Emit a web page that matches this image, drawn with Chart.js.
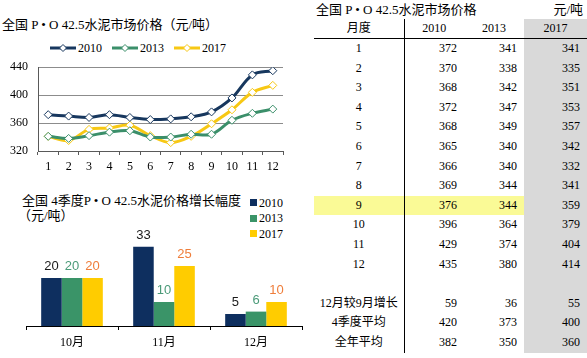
<!DOCTYPE html>
<html>
<head>
<meta charset="utf-8">
<script src="https://cdn.jsdelivr.net/npm/chart.js@4"></script>
<style>
  body { margin: 0; width: 587px; height: 358px; background: #fff; position: relative; overflow: hidden;
         font-family: "Liberation Serif", "Noto Sans CJK SC", serif; color: #000; }
  .abs { position: absolute; white-space: nowrap; }
  .title { font-size: 13px; line-height: 16px; }
  .leg { font-size: 12px; line-height: 14px; display: flex; align-items: center; }
  .leg svg { margin-right: 2px; }
  .sq { width: 7px; height: 7px; display: inline-block; margin-right: 2px; }
  #priceTable { position: absolute; left: 314px; top: 19px; border-collapse: collapse; table-layout: fixed;
                font-size: 12px; white-space: nowrap; }
  #priceTable td, #priceTable th { padding: 0 7px; height: 19.6px; line-height: 19.6px; font-weight: normal; }
  #priceTable th { height: 19px; line-height: 19px; border-bottom: 1px solid #000; text-align: center; }
  #priceTable .m { text-align: center; border-right: 1px solid #000; padding: 0; }
  #priceTable td.n { text-align: right; }
  #priceTable .g { background: #d9d9d9; }
  #priceTable tr.hl td:not(.g) { background: #fafa96; }
</style>
</head>
<body>
<!-- 左上：折线图 -->
<div class="abs title" style="left:2px;top:17px;">全国 P • O 42.5水泥市场价格（元/吨）</div>
<div id="lineLegend" class="abs leg" style="left:50px;top:41px;"></div>
<canvas id="lineChart" width="300" height="130" style="position:absolute;left:0;top:50px;"></canvas>

<!-- 左下：柱状图 -->
<div class="abs title" style="left:22px;top:193px;">全国 4季度P • O 42.5水泥价格增长幅度</div>
<div class="abs title" style="left:18px;top:208px;">（元/吨）</div>
<div id="barLegend" class="abs" style="left:250px;top:195px;"></div>
<canvas id="barChart" width="304" height="178" style="position:absolute;left:0;top:180px;"></canvas>

<!-- 右侧：表格 -->
<div class="abs title" style="left:316px;top:2px;">全国 P • O 42.5水泥市场价格</div>
<div class="abs title" style="right:4px;top:2px;">元/吨</div>
<table id="priceTable"></table>

<script>
// 月度价格
const months = ["1", "2", "3", "4", "5", "6", "7", "8", "9", "10", "11", "12"];
const price2010 = [372, 370, 368, 372, 368, 365, 366, 369, 376, 396, 429, 435];
const price2013 = [341, 338, 342, 347, 349, 340, 340, 344, 344, 364, 374, 380];
const price2017 = [341, 335, 351, 353, 357, 342, 332, 341, 359, 379, 404, 414];
const years = ["2010", "2013", "2017"];

// 4季度增长幅度
const quarterMonths = ["10月", "11月", "12月"];
const growth2010 = [20, 33, 5];
const growth2013 = [20, 10, 6];
const growth2017 = [20, 25, 10];

// 表格汇总行
const summaryLabels = ["12月较9月增长", "4季度平均", "全年平均"];
const summary2010 = [59, 420, 382];
const summary2013 = [36, 373, 350];
const summary2017 = [55, 400, 360];
const highlightMonth = "9";

const lineColors = ["#17375e", "#3b8f6a", "#f7c814"];
const barColors = ["#0e2f5f", "#3a9468", "#ffcc00"];
const labelColors = ["#1a1a1a", "#4a9a78", "#ef7d3a"];

// 图例
const lineLegend = document.getElementById("lineLegend");
years.forEach((y, i) => {
  const c = lineColors[i];
  const item = document.createElement("span");
  item.className = "leg";
  item.style.marginRight = i < 2 ? "10px" : "0";
  item.innerHTML = `<svg width="26" height="10"><line x1="0" y1="5" x2="26" y2="5" stroke="${c}" stroke-width="3"/>` +
    `<path d="M13 1.5 L16.5 5 L13 8.5 L9.5 5 Z" fill="#fff" stroke="${c}" stroke-width="1"/></svg>${y}`;
  lineLegend.appendChild(item);
});
const barLegend = document.getElementById("barLegend");
years.forEach((y, i) => {
  const item = document.createElement("div");
  item.className = "leg";
  item.style.height = "15.5px";
  item.innerHTML = `<span class="sq" style="background:${barColors[i]}"></span>${y}`;
  barLegend.appendChild(item);
});

const serif = '"Liberation Serif", "Noto Sans CJK SC", serif';

new Chart(document.getElementById("lineChart"), {
  type: "line",
  data: {
    labels: months,
    datasets: [price2010, price2013, price2017].map((d, i) => ({
      label: years[i],
      data: d,
      borderColor: lineColors[i],
      borderWidth: 3,
      tension: 0.35,
      pointStyle: "rectRot",
      pointRadius: 4,
      pointBackgroundColor: "#fff",
      pointBorderColor: lineColors[i],
      pointBorderWidth: 1,
    })),
  },
  options: {
    responsive: false,
    animation: false,
    devicePixelRatio: 1,
    layout: { padding: { top: 12, right: 17, left: 0, bottom: 0 } },
    plugins: { legend: { display: false }, tooltip: { enabled: false } },
    scales: {
      x: {
        offset: true,
        afterFit: (s) => { s.height = 29; },
        grid: { drawOnChartArea: false, offset: true, tickLength: 4, color: "#595959" },
        border: { color: "#595959" },
        ticks: { color: "#000", padding: 5, font: { family: serif, size: 12 } },
      },
      y: {
        min: 320,
        max: 440,
        afterFit: (s) => { s.width = 38; },
        grid: { drawTicks: false, color: "#8c8c8c" },
        border: { color: "#595959" },
        ticks: { stepSize: 40, color: "#000", padding: 10, font: { family: serif, size: 12 } },
      },
    },
  },
});

const barLabels = {
  id: "barLabels",
  afterDatasetsDraw(chart) {
    const ctx = chart.ctx;
    ctx.save();
    ctx.font = '13px "Liberation Sans", sans-serif';
    ctx.textAlign = "center";
    ctx.textBaseline = "bottom";
    chart.data.datasets.forEach((ds, i) => {
      ctx.fillStyle = labelColors[i];
      chart.getDatasetMeta(i).data.forEach((bar, j) => {
        ctx.fillText(ds.data[j], bar.x, bar.y - 5);
      });
    });
    ctx.restore();
  },
};

new Chart(document.getElementById("barChart"), {
  type: "bar",
  data: {
    labels: quarterMonths,
    datasets: [growth2010, growth2013, growth2017].map((d, i) => ({
      label: years[i],
      data: d,
      backgroundColor: barColors[i],
      categoryPercentage: 0.67,
      barPercentage: 1,
    })),
  },
  options: {
    responsive: false,
    animation: false,
    devicePixelRatio: 1,
    layout: { padding: { top: 50, right: 2, left: 26, bottom: 0 } },
    plugins: { legend: { display: false }, tooltip: { enabled: false } },
    scales: {
      x: {
        afterFit: (s) => { s.height = 32; },
        grid: { drawOnChartArea: false, offset: true, tickLength: 4, color: "#000" },
        border: { color: "#000" },
        ticks: { color: "#000", padding: 6, font: { family: serif, size: 12 } },
      },
      y: { display: false, min: 0, max: 40 },
    },
  },
  plugins: [barLabels],
});

// 表格
const table = document.getElementById("priceTable");
let html = '<colgroup><col style="width:90px"><col style="width:60px"><col style="width:60px"><col style="width:63px"></colgroup>';
html += '<tr><th class="m">月度</th><th>2010</th><th>2013</th><th class="g">2017</th></tr>';
months.forEach((m, i) => {
  html += `<tr${m === highlightMonth ? ' class="hl"' : ""}><td class="m">${m}</td><td class="n">${price2010[i]}</td>` +
    `<td class="n">${price2013[i]}</td><td class="n g">${price2017[i]}</td></tr>`;
});
html += '<tr><td class="m"></td><td></td><td></td><td class="g"></td></tr>';
summaryLabels.forEach((s, i) => {
  html += `<tr><td class="m">${s}</td><td class="n">${summary2010[i]}</td>` +
    `<td class="n">${summary2013[i]}</td><td class="n g">${summary2017[i]}</td></tr>`;
});
table.innerHTML = html;
</script>
</body>
</html>
